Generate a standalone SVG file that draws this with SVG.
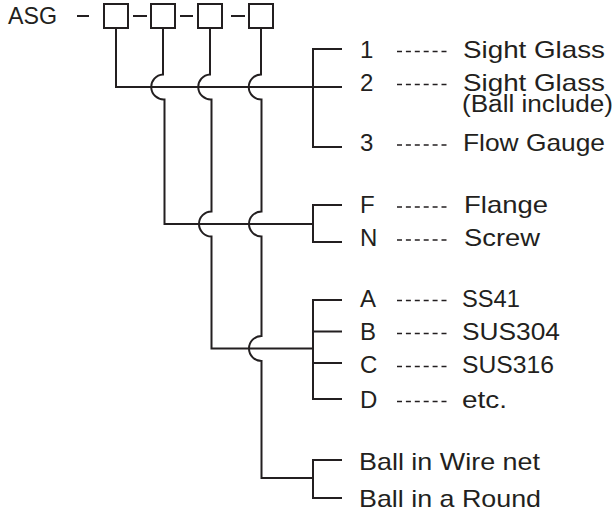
<svg xmlns="http://www.w3.org/2000/svg" width="615" height="512" viewBox="0 0 615 512">
<style>
.ln{fill:none;stroke:#231f20;stroke-width:2;stroke-linejoin:miter}
.bx{fill:#fff;stroke:#231f20;stroke-width:2}
.t{font-family:"Liberation Sans",Arial,sans-serif;font-size:24px;fill:#231f20}
.dl{stroke:#231f20;stroke-width:1.6;stroke-dasharray:5 3.9}
</style>
<rect width="615" height="512" fill="#fff"/>
<g id="code">
<text class="t" x="8" y="24" textLength="49" lengthAdjust="spacingAndGlyphs">ASG</text>
<line class="ln" x1="77" y1="16" x2="89" y2="16"/>
<rect class="bx" x="104" y="4" width="24" height="24"/>
<line class="ln" x1="133" y1="16" x2="147" y2="16"/>
<rect class="bx" x="151" y="4" width="24" height="24"/>
<line class="ln" x1="180" y1="16" x2="193" y2="16"/>
<rect class="bx" x="198" y="4" width="24" height="24"/>
<line class="ln" x1="231" y1="16" x2="245" y2="16"/>
<rect class="bx" x="249" y="4" width="24" height="24"/>
</g>
<g id="connectors">
<path class="ln" d="M116,28 V87 H342"/>
<path class="ln" d="M163,28 V74.5 A12.5,12.5 0 0 0 164.5,99.5 V224 H313"/>
<path class="ln" d="M210,28 V74.5 A12.5,12.5 0 0 0 211.5,99.5 V211.5 A12.5,12.5 0 0 0 211.5,236.5 V348.5 H313"/>
<path class="ln" d="M261,28 V74.5 A12.5,12.5 0 0 0 261.5,99.5 V211.5 A12.5,12.5 0 0 0 261.5,236.5 V336 A12.5,12.5 0 0 0 261.5,361 V478 H313"/>
<path class="ln" d="M342,49 H313 V147 H342"/>
<path class="ln" d="M342,205 H313 V242 H342"/>
<path class="ln" d="M342,300 H313 V399 H342 M313,331.5 H342 M313,363 H342"/>
<path class="ln" d="M342,460 H313 V498 H342"/>
</g>
<g id="opt-type">
<text class="t" x="360" y="57.5">1</text><line class="dl" x1="397" y1="51.5" x2="446.5" y2="51.5"/>
<text class="t" x="463" y="57.5" textLength="142" lengthAdjust="spacingAndGlyphs">Sight Glass</text>
<text class="t" x="360" y="90.5">2</text><line class="dl" x1="397" y1="84.5" x2="446.5" y2="84.5"/>
<text class="t" x="463" y="90.5" textLength="142" lengthAdjust="spacingAndGlyphs">Sight Glass</text>
<text class="t" x="462" y="112" style="font-size:23px" textLength="151" lengthAdjust="spacingAndGlyphs">(Ball include)</text>
<text class="t" x="360" y="151">3</text><line class="dl" x1="397" y1="145" x2="446.5" y2="145"/>
<text class="t" x="463" y="151" textLength="142" lengthAdjust="spacingAndGlyphs">Flow Gauge</text>
</g>
<g id="opt-conn">
<text class="t" x="360" y="213">F</text><line class="dl" x1="397" y1="207" x2="446.5" y2="207"/>
<text class="t" x="464" y="213" textLength="84" lengthAdjust="spacingAndGlyphs">Flange</text>
<text class="t" x="360" y="246">N</text><line class="dl" x1="397" y1="240" x2="446.5" y2="240"/>
<text class="t" x="464" y="246" textLength="76" lengthAdjust="spacingAndGlyphs">Screw</text>
</g>
<g id="opt-mat">
<text class="t" x="360" y="307">A</text><line class="dl" x1="397" y1="300.5" x2="446.5" y2="300.5"/>
<text class="t" x="462" y="307" textLength="58" lengthAdjust="spacingAndGlyphs">SS41</text>
<text class="t" x="360" y="340">B</text><line class="dl" x1="397" y1="333.5" x2="446.5" y2="333.5"/>
<text class="t" x="462" y="340" textLength="98" lengthAdjust="spacingAndGlyphs">SUS304</text>
<text class="t" x="360" y="373">C</text><line class="dl" x1="397" y1="366.5" x2="446.5" y2="366.5"/>
<text class="t" x="462" y="373" textLength="92" lengthAdjust="spacingAndGlyphs">SUS316</text>
<text class="t" x="360" y="408">D</text><line class="dl" x1="397" y1="401.5" x2="446.5" y2="401.5"/>
<text class="t" x="462" y="408" textLength="45" lengthAdjust="spacingAndGlyphs">etc.</text>
</g>
<g id="opt-ball">
<text class="t" x="359" y="470" textLength="181" lengthAdjust="spacingAndGlyphs">Ball in Wire net</text>
<text class="t" x="359" y="507" textLength="182" lengthAdjust="spacingAndGlyphs">Ball in a Round</text>
</g>
</svg>
